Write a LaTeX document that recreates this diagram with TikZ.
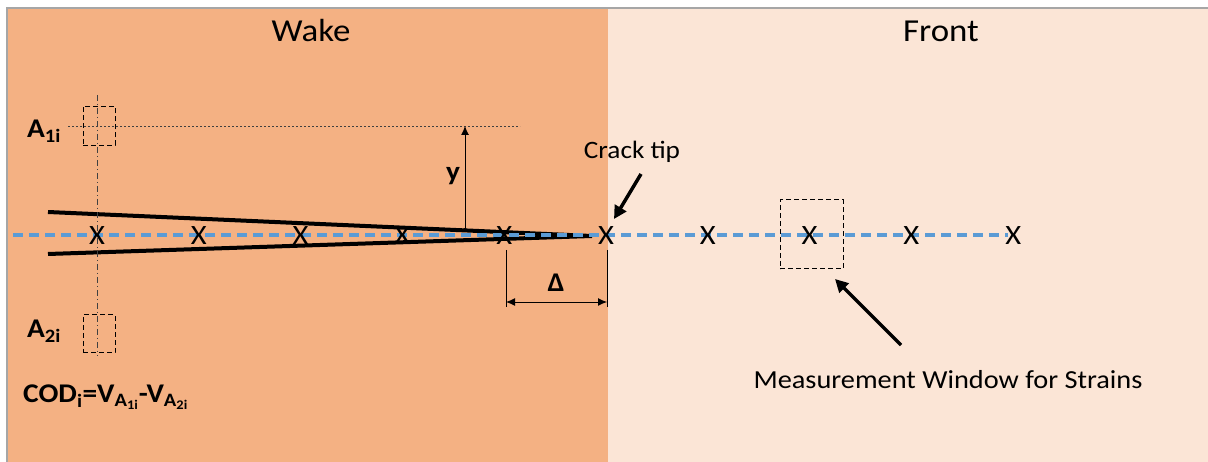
\documentclass[tikz,border=0pt]{standalone}
\usepackage{fontspec}
\setmainfont{Carlito}[FakeStretch=1.09]
\usetikzlibrary{arrows.meta}
\definecolor{wakeorange}{HTML}{F4B183}
\definecolor{frontpeach}{HTML}{FBE5D6}
\definecolor{lineblue}{HTML}{5B9BD5}

\begin{document}
\begin{tikzpicture}[x=1pt, y=-1pt, font=\fontsize{25}{30}\selectfont,
    xmark/.style={font=\fontsize{28}{30}\selectfont, inner sep=0pt},
    windowbox/.style={draw, line width=1pt, dash pattern=on 5pt off 3pt},
    bigarrow/.style={line width=3.5pt, -{Triangle[length=13pt, width=13pt]}},
    dimline/.style={line width=0.9pt},
    lbl/.style={font=\fontsize{27}{30}\bfseries\selectfont, inner sep=0pt}]
  \useasboundingbox (0,0) rectangle (1208,462);
  % regions
  \fill[wakeorange] (7,8) rectangle (608,462);
  \fill[frontpeach] (608,8) rectangle (1208,462);
  \draw[gray!70, line width=1.5pt] (7,462) -- (7,8) -- (1208,8);
  \node[font=\fontsize{32}{36}\selectfont] (wake) at (311,31) {Wake};
  \node[font=\fontsize{32}{36}\selectfont] (front) at (941,31) {Front};

  % crack faces
  \coordinate (faceup) at (48,212);
  \coordinate (facelow) at (48,254);
  \coordinate (tip) at (592,236);
  \draw[line width=4pt] (faceup) -- (tip) -- (facelow);

  % reference lines through A1i / A2i
  \coordinate (vtop) at (97,95);
  \coordinate (vbot) at (97,356);
  \coordinate (hleft) at (68,126);
  \coordinate (hright) at (520,126);
  \draw[black!75, line width=0.7pt, dash pattern=on 6pt off 3pt on 1pt off 3pt] (vtop) -- (vbot);
  \draw[black!75, line width=0.7pt, dash pattern=on 2pt off 2pt] (hleft) -- (hright);
  \node[windowbox, minimum width=32pt, minimum height=39pt] (boxA1) at (99,126) {};
  \node[windowbox, minimum width=32pt, minimum height=38pt] (boxA2) at (99,334) {};

  % crack line and points
  \coordinate (start) at (13,235);
  \coordinate (stop) at (1008,235);
  \draw[lineblue, line width=4.2pt, dash pattern=on 10pt off 6pt] (start) -- (stop);
  \foreach \i in {1,...,10}
    \node[xmark] (x\i) at ({97+101.8*(\i-1)},236) {X};

  % labels left
  \node[lbl] (A1) at (44,131) {A\textsubscript{1i}};
  \node[lbl] (A2) at (44,331) {A\textsubscript{2i}};
  \node[lbl, anchor=west] (cod) at (23,397)
    {COD\textsubscript{i}=V\textsubscript{A\textsubscript{1i}}-V\textsubscript{A\textsubscript{2i}}};

  % opening height y
  \coordinate (ybase) at (465,230);
  \coordinate (ytop) at (465,126);
  \draw[dimline, -{Latex[length=9pt, width=8pt]}] (ybase) -- (ytop);
  \fill (ybase) circle (2pt);
  \node[lbl] (ylbl) at (453,176) {y};

  % distance Delta
  \coordinate (d1top) at (506,250);
  \coordinate (d1bot) at (506,307);
  \coordinate (d2top) at (607,250);
  \coordinate (d2bot) at (607,307);
  \draw[dimline] (d1top) -- (d1bot);
  \draw[dimline] (d2top) -- (d2bot);
  \coordinate (dleft) at (506,302);
  \coordinate (dright) at (607,302);
  \draw[dimline, {Latex[length=9pt, width=8pt]}-{Latex[length=9pt, width=8pt]}] (dleft) -- (dright);
  \node[lbl] (dlbl) at (556,283) {Δ};

  % crack tip
  \node (cracktip) at (632,152) {Crack tip};
  \coordinate (tipfrom) at (641,174);
  \coordinate (tipto) at (614,219);
  \draw[bigarrow] (tipfrom) -- (tipto);

  % measurement window
  \node[windowbox, minimum width=63pt, minimum height=69pt] (window) at (811.5,234.5) {};
  \node[font=\fontsize{26}{30}\selectfont] (windowlbl) at (948,380) {Measurement Window for Strains};
  \coordinate (winfrom) at (901,345);
  \coordinate (winto) at (835,279);
  \draw[bigarrow] (winfrom) -- (winto);
\end{tikzpicture}
\end{document}
